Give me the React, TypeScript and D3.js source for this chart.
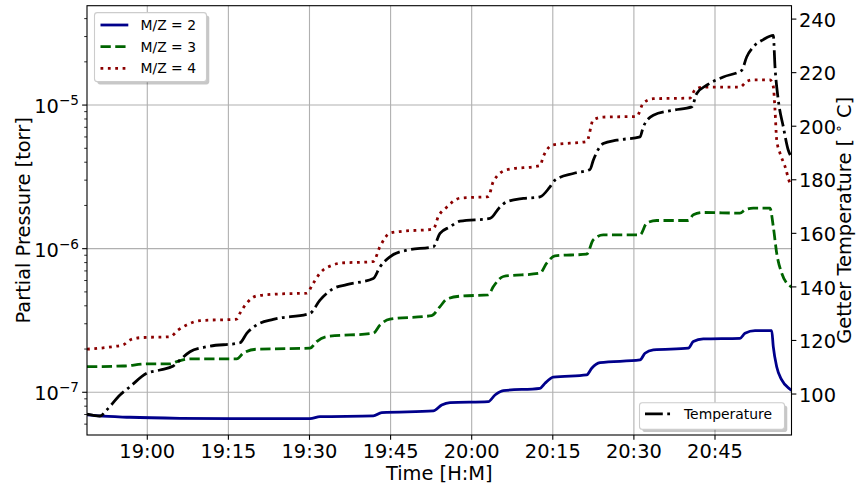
import React from "react";
import * as d3 from "d3";

// ---- data (time in minutes after 18:00) ----
const timeStart = 48.85;
const timeEnd = 179.15;
const xTickLabels = ["19:00", "19:15", "19:30", "19:45", "20:00", "20:15", "20:30", "20:45"];
const pressureDomain = [5.04e-8, 4.92e-5];
const pressureTickExps = [-7, -6, -5];
const tempDomain = [84.7, 245];
const tempTicks = [100, 120, 140, 160, 180, 200, 220, 240];

const mz2Time = [48.85, 50.94, 56.8, 66.05, 75.3, 90.09, 91.94, 101.8, 103.35, 112.9, 114.45, 115.99, 123.07, 124.31, 125.85, 132.63, 133.56, 135.09, 141.27, 142.2, 143.73, 151.13, 152.05, 153.59, 160.06, 160.99, 162.84, 169.62, 170.55, 172.4, 175.49, 175.78, 176.41, 177.34, 178.87, 179.15];
const mz2Value = [6.95e-8, 6.84e-8, 6.7e-8, 6.59e-8, 6.55e-8, 6.55e-8, 6.76e-8, 6.84e-8, 7.21e-8, 7.41e-8, 8.15e-8, 8.47e-8, 8.6e-8, 9.57e-8, 1.026e-7, 1.066e-7, 1.156e-7, 1.273e-7, 1.321e-7, 1.47e-7, 1.607e-7, 1.679e-7, 1.869e-7, 1.971e-7, 2.026e-7, 2.254e-7, 2.352e-7, 2.376e-7, 2.576e-7, 2.686e-7, 2.686e-7, 2.08e-7, 1.507e-7, 1.218e-7, 1.05e-7, 1.03e-7];

const mz3Time = [48.85, 55.56, 59.89, 64.2, 65.44, 67.9, 76.54, 77.76, 80.23, 90.09, 91.33, 93.18, 101.8, 103.04, 104.89, 112.6, 114.14, 115.38, 117.84, 123.07, 124.0, 125.85, 132.63, 133.87, 135.41, 141.27, 142.49, 144.34, 151.13, 152.37, 154.22, 160.06, 160.99, 162.84, 169.62, 170.55, 172.08, 175.17, 175.78, 176.41, 177.34, 178.26, 179.15];
const mz3Value = [1.507e-7, 1.524e-7, 1.574e-7, 1.574e-7, 1.633e-7, 1.706e-7, 1.706e-7, 1.871e-7, 1.995e-7, 2.028e-7, 2.254e-7, 2.44e-7, 2.576e-7, 2.943e-7, 3.227e-7, 3.42e-7, 3.95e-7, 4.45e-7, 4.67e-7, 4.77e-7, 5.44e-7, 6.4e-7, 6.75e-7, 7.92e-7, 8.91e-7, 9.16e-7, 1.152e-6, 1.248e-6, 1.248e-6, 1.507e-6, 1.571e-6, 1.571e-6, 1.722e-6, 1.786e-6, 1.768e-6, 1.862e-6, 1.914e-6, 1.914e-6, 1.426e-6, 9.31e-7, 6.75e-7, 5.75e-7, 5.42e-7];

const mz4Time = [48.85, 53.71, 55.56, 56.8, 58.65, 64.2, 65.73, 67.29, 69.75, 76.54, 77.15, 78.39, 80.23, 84.54, 89.48, 90.7, 91.94, 94.4, 95.64, 101.8, 103.04, 104.89, 106.74, 112.9, 113.82, 115.25, 117.84, 123.07, 124.0, 126.47, 132.63, 133.24, 135.09, 141.27, 142.49, 144.34, 150.52, 151.74, 153.59, 160.38, 161.3, 162.84, 169.62, 170.86, 172.08, 175.17, 175.78, 176.1, 176.41, 177.02, 177.95, 178.87, 179.15];
const mz4Value = [1.995e-7, 2.08e-7, 2.138e-7, 2.312e-7, 2.399e-7, 2.438e-7, 2.715e-7, 2.943e-7, 3.155e-7, 3.23e-7, 3.556e-7, 4.17e-7, 4.69e-7, 4.84e-7, 4.9e-7, 5.75e-7, 6.75e-7, 7.71e-7, 7.93e-7, 8.13e-7, 1.035e-6, 1.283e-6, 1.316e-6, 1.367e-6, 1.674e-6, 1.923e-6, 2.249e-6, 2.307e-6, 2.935e-6, 3.54e-6, 3.79e-6, 4.38e-6, 5.29e-6, 5.57e-6, 7.9e-6, 8.25e-6, 8.33e-6, 1.033e-5, 1.107e-5, 1.119e-5, 1.279e-5, 1.335e-5, 1.335e-5, 1.459e-5, 1.499e-5, 1.499e-5, 1.348e-5, 9.27e-6, 5.73e-6, 4.63e-6, 3.74e-6, 2.86e-6, 2.74e-6];

const tempTime = [48.85, 51.24, 52.48, 54.95, 56.8, 59.89, 62.35, 64.81, 66.05, 67.9, 70.99, 77.15, 78.39, 80.23, 83.3, 90.09, 91.94, 94.4, 96.88, 101.8, 103.04, 104.89, 107.98, 112.9, 114.14, 115.99, 117.84, 123.39, 125.24, 126.47, 129.54, 132.63, 134.48, 135.41, 138.79, 141.88, 142.49, 144.34, 146.82, 151.13, 151.74, 153.59, 157.29, 160.69, 161.62, 163.47, 166.54, 169.94, 170.86, 172.08, 173.93, 175.78, 176.1, 176.71, 177.64, 178.56, 179.15];
const tempValue = [92.54, 91.79, 94.03, 99.63, 102.72, 107.72, 108.96, 110.45, 112.69, 115.78, 117.65, 119.14, 122.65, 125.75, 127.87, 130.11, 135.07, 139.37, 140.86, 143.1, 147.5, 151.23, 153.73, 154.96, 159.96, 162.43, 164.55, 165.56, 169.89, 171.75, 173.02, 173.62, 177.35, 179.85, 182.35, 183.84, 187.31, 193.54, 194.78, 196.01, 199.74, 204.1, 205.97, 207.2, 212.2, 215.3, 218.4, 220.89, 225.86, 229.59, 232.35, 233.95, 222.13, 209.7, 199.74, 191.04, 188.43];

const legendLabels = ["M/Z = 2", "M/Z = 3", "M/Z = 4"];
const tempLegendLabel = "Temperature";

const LW = 2.78;
const styles = [
  { color: "#00008b", dash: undefined as string | undefined },
  { color: "#006400", dash: "10.3 4.45" },
  { color: "#8b0000", dash: "2.78 4.59" },
];
const tempStyle = { color: "#000000", dash: "17.8 4.45 2.78 4.45" };

const FONT = "DejaVu Sans";
const TICK_FS = 19.4;
const LEG_FS = 13.9;

export default function App() {
  const L = 87, R = 791.5, T = 5.7, B = 435;
  const x = d3.scaleLinear().domain([timeStart, timeEnd]).range([L, R]);
  const yP = d3.scaleLog().domain(pressureDomain).range([B, T]);
  const yT = d3.scaleLinear().domain(tempDomain).range([B, T]);

  const tickMin = xTickLabels.map((s) => {
    const [h, m] = s.split(":").map(Number);
    return (h - 18) * 60 + m;
  });

  const mkP = (times: number[], vals: number[]) =>
    d3.line<number>().x((_, i) => x(times[i])).y((d) => yP(d)).curve(d3.curveMonotoneX)(vals) || "";
  const mkT = (times: number[], vals: number[]) =>
    d3.line<number>().x((_, i) => x(times[i])).y((d) => yT(d)).curve(d3.curveMonotoneX)(vals) || "";

  const series = [
    { t: mz2Time, v: mz2Value },
    { t: mz3Time, v: mz3Value },
    { t: mz4Time, v: mz4Value },
  ];

  const minor: number[] = [];
  for (let e = -8; e <= -4; e++) {
    for (let k = 2; k <= 9; k++) {
      const v = k * Math.pow(10, e);
      if (v >= pressureDomain[0] && v <= pressureDomain[1]) minor.push(v);
    }
  }

  const leg1 = { x: 94.5, y: 12.6, w: 112, h: 69 };
  const leg2 = { x: 639.5, y: 402.7, w: 145, h: 26.6 };

  return (
    <svg width={856} height={489} style={{ position: "absolute", left: 0, top: 0, display: "block" }} fontFamily={FONT}>
      <rect x={0} y={0} width={856} height={489} fill="#ffffff" />
      <defs>
        <clipPath id="plotclip">
          <rect x={L} y={T} width={R - L} height={B - T} />
        </clipPath>
      </defs>
      {/* grid */}
      <g stroke="#b0b0b0" strokeWidth={1.1}>
        {tickMin.map((m, i) => (
          <line key={"gx" + i} x1={x(m)} x2={x(m)} y1={T} y2={B} />
        ))}
        {pressureTickExps.map((e, i) => (
          <line key={"gy" + i} x1={L} x2={R} y1={yP(Math.pow(10, e))} y2={yP(Math.pow(10, e))} />
        ))}
      </g>
      {/* pressure lines */}
      <g clipPath="url(#plotclip)" fill="none" strokeWidth={LW}>
        {series.map((s, i) => (
          <path key={"s" + i} d={mkP(s.t, s.v)} stroke={styles[i].color} strokeDasharray={styles[i].dash} />
        ))}
      </g>
      {/* legend 1 */}
      <g>
        <rect x={leg1.x + 2.78} y={leg1.y + 2.78} width={leg1.w} height={leg1.h} rx={2.8} fill="#000" opacity={0.22} />
        <rect x={leg1.x} y={leg1.y} width={leg1.w} height={leg1.h} rx={2.8} fill="#ffffff" stroke="#cccccc" strokeWidth={1.1} />
        {legendLabels.map((lab, i) => {
          const yy = 25 + i * 21.7;
          return (
            <g key={"l" + i}>
              <line x1={100.5} x2={128.3} y1={yy} y2={yy} stroke={styles[i].color} strokeWidth={LW} strokeDasharray={styles[i].dash} />
              <text x={140.5} y={yy + 5} fontSize={LEG_FS} fill="#000">{lab}</text>
            </g>
          );
        })}
      </g>
      {/* temperature line */}
      <g clipPath="url(#plotclip)" fill="none">
        <path d={mkT(tempTime, tempValue)} stroke={tempStyle.color} strokeWidth={LW} strokeDasharray={tempStyle.dash} />
      </g>
      {/* frame */}
      <rect x={L} y={T} width={R - L} height={B - T} fill="none" stroke="#000" strokeWidth={1.1} />
      {/* x ticks */}
      {tickMin.map((m, i) => (
        <g key={"xt" + i}>
          <line x1={x(m)} x2={x(m)} y1={B} y2={B + 4.86} stroke="#000" strokeWidth={1.1} />
          <text x={x(m)} y={457.5} textAnchor="middle" fontSize={TICK_FS} fill="#000">{xTickLabels[i]}</text>
        </g>
      ))}
      {/* left major ticks */}
      {pressureTickExps.map((e, i) => {
        const yy = yP(Math.pow(10, e));
        return (
          <g key={"yt" + i}>
            <line x1={L - 4.86} x2={L} y1={yy} y2={yy} stroke="#000" strokeWidth={1.1} />
            <text x={79} y={yy + 8.2} textAnchor="end" fontSize={TICK_FS} fill="#000">
              10<tspan dy={-8.3} fontSize={13.6}>{"\u2212" + Math.abs(e)}</tspan>
            </text>
          </g>
        );
      })}
      {/* left minor ticks */}
      {minor.map((v, i) => (
        <line key={"mn" + i} x1={L - 2.78} x2={L} y1={yP(v)} y2={yP(v)} stroke="#000" strokeWidth={0.83} />
      ))}
      {/* right ticks */}
      {tempTicks.map((v, i) => (
        <g key={"rt" + i}>
          <line x1={R} x2={R + 4.86} y1={yT(v)} y2={yT(v)} stroke="#000" strokeWidth={1.1} />
          <text x={799} y={yT(v) + 7.6} fontSize={TICK_FS} fill="#000">{v}</text>
        </g>
      ))}
      {/* axis labels */}
      <text x={(L + R) / 2} y={479.5} textAnchor="middle" fontSize={TICK_FS} fill="#000">Time [H:M]</text>
      <text transform={`translate(29.5,${(T + B) / 2}) rotate(-90)`} textAnchor="middle" fontSize={TICK_FS} fill="#000">
        Partial Pressure [torr]
      </text>
      <text transform={`translate(851,${(T + B) / 2}) rotate(-90)`} textAnchor="middle" fontSize={TICK_FS} fill="#000">
        Getter Temperature [ <tspan dy={-8} fontSize={13.6}>{"\u2218"}</tspan><tspan dy={8}> C]</tspan>
      </text>
      {/* legend 2 */}
      <g>
        <rect x={leg2.x + 2.78} y={leg2.y + 2.78} width={leg2.w} height={leg2.h} rx={2.8} fill="#000" opacity={0.22} />
        <rect x={leg2.x} y={leg2.y} width={leg2.w} height={leg2.h} rx={2.8} fill="#ffffff" stroke="#cccccc" strokeWidth={1.1} />
        <line x1={645} x2={672.8} y1={413.8} y2={413.8} stroke={tempStyle.color} strokeWidth={LW} strokeDasharray={tempStyle.dash} />
        <text x={684} y={419} fontSize={LEG_FS} fill="#000">{tempLegendLabel}</text>
      </g>
    </svg>
  );
}
